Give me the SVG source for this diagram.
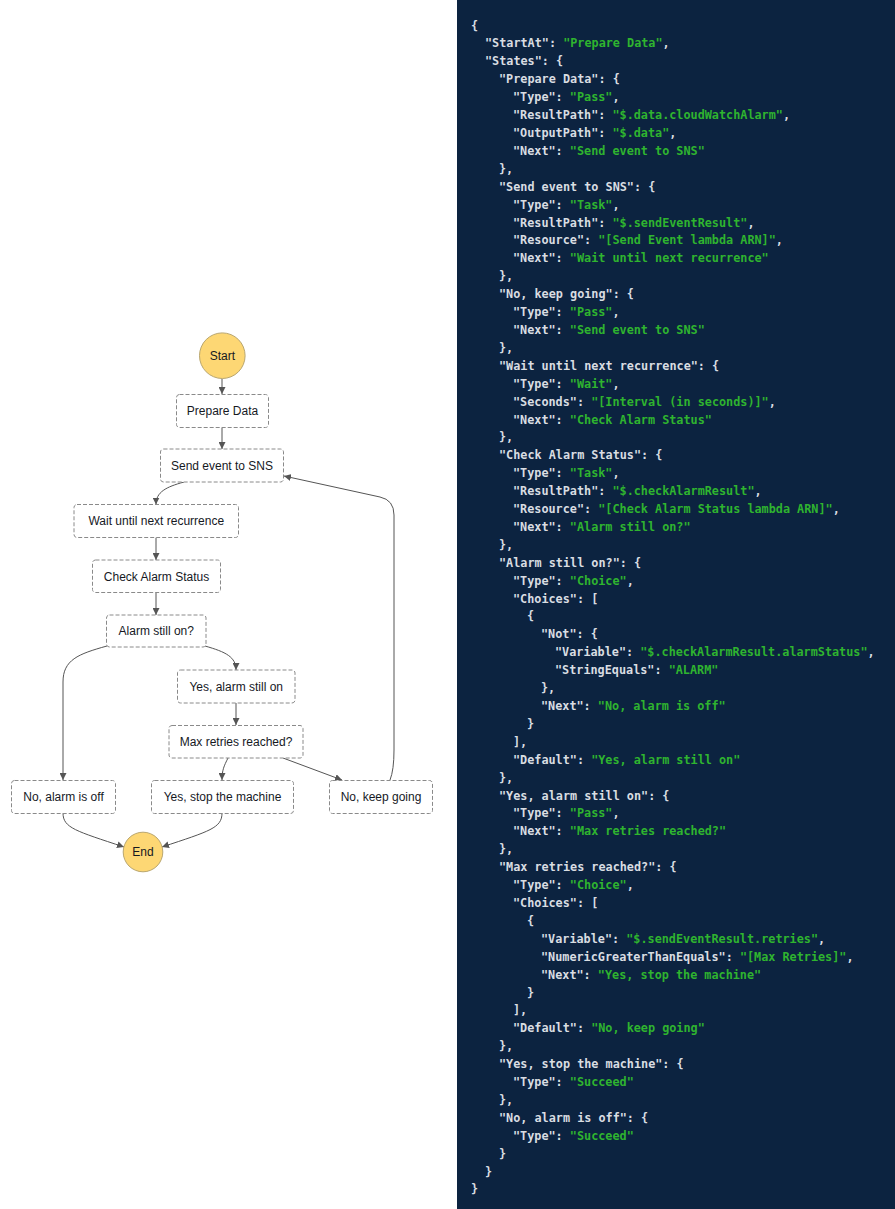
<svg xmlns="http://www.w3.org/2000/svg" width="895" height="1209" viewBox="0 0 895 1209">
<style>
.node rect{fill:#fff;stroke:#8a8a8a;stroke-width:1;stroke-dasharray:4 2}
.node circle{fill:#fdd774;stroke:#b9a66e;stroke-width:1}
.node text{font-family:"Liberation Sans",Arial,sans-serif;font-size:12px;fill:#16191f;text-anchor:middle}
.edge{fill:none;stroke:#555;stroke-width:1;marker-end:url(#ah)}
.code text{font-family:"DejaVu Sans Mono","Liberation Mono",monospace;font-size:11.8px;font-weight:bold;fill:#d9dde2}
.code .v{fill:#2fb42f}
</style>
<defs>
<marker id="ah" viewBox="0 0 8 8" refX="8" refY="4" markerWidth="7" markerHeight="7" orient="auto" markerUnits="userSpaceOnUse">
<path d="M0,0 L8,4 L0,8 z" fill="#555"/>
</marker>
</defs>
<rect x="0" y="0" width="895" height="1209" fill="#fff"/>
<g id="connectors">
<path class="edge" d="M222,379 L222,394"/>
<path class="edge" d="M222,427.5 L222,449"/>
<path class="edge" d="M184,482 C166,487 156,492 156,504.5"/>
<path class="edge" d="M156,537.5 L156,560"/>
<path class="edge" d="M156,592.5 L156,615"/>
<path class="edge" d="M107,646 C78,654 63,660 63,682 L63,780"/>
<path class="edge" d="M205,646 C226,652 236,657 236,670"/>
<path class="edge" d="M236,703 L236,725"/>
<path class="edge" d="M228,758 C224,766 222,770 222,780"/>
<path class="edge" d="M283,758 L342,780"/>
<path class="edge" d="M390,780 Q394,770 394,750 L394,515 Q394,500 380,497 L284,476"/>
<path class="edge" d="M63,813 C63,828 76,831 124,847"/>
<path class="edge" d="M222,813 C222,828 210,831 162,847"/>
</g>
<g id="start" class="node"><circle cx="222.3" cy="355.7" r="22.8"/><text x="222.3" y="360">Start</text></g>
<g id="prepare-data" class="node"><rect x="176.5" y="394.5" width="92" height="33" rx="3"/><text x="222.5" y="415">Prepare Data</text></g>
<g id="send-event" class="node"><rect x="160.5" y="449" width="123" height="33" rx="3"/><text x="222" y="469.5">Send event to SNS</text></g>
<g id="wait" class="node"><rect x="74" y="504.5" width="164.5" height="33" rx="3"/><text x="156.3" y="525">Wait until next recurrence</text></g>
<g id="check-alarm" class="node"><rect x="92.5" y="560" width="128" height="32.5" rx="3"/><text x="156.5" y="580.5">Check Alarm Status</text></g>
<g id="alarm-still-on" class="node"><rect x="106.5" y="615" width="99.5" height="32" rx="3"/><text x="156.3" y="635.3">Alarm still on?</text></g>
<g id="yes-alarm-still-on" class="node"><rect x="177.5" y="670" width="117.5" height="33" rx="3"/><text x="236.2" y="690.5">Yes, alarm still on</text></g>
<g id="max-retries" class="node"><rect x="169" y="725.5" width="134" height="32.5" rx="3"/><text x="236" y="746">Max retries reached?</text></g>
<g id="no-alarm-off" class="node"><rect x="11.5" y="780.5" width="104" height="33" rx="3"/><text x="63.5" y="801">No, alarm is off</text></g>
<g id="yes-stop" class="node"><rect x="151.5" y="780.5" width="142" height="33" rx="3"/><text x="222.5" y="801">Yes, stop the machine</text></g>
<g id="no-keep-going" class="node"><rect x="329.5" y="780.5" width="103" height="33" rx="3"/><text x="381" y="801">No, keep going</text></g>
<g id="end" class="node"><circle cx="143" cy="852" r="19.8"/><text x="143" y="856.3">End</text></g>
<g id="code" class="code">
<rect x="457" y="0" width="438" height="1209" fill="#0c2340"/>
<text x="471" y="29.5">{</text>
<text x="485" y="47.4">"StartAt": <tspan class="v">"Prepare Data"</tspan>,</text>
<text x="485" y="65.3">"States": {</text>
<text x="499" y="83.2">"Prepare Data": {</text>
<text x="513" y="101.1">"Type": <tspan class="v">"Pass"</tspan>,</text>
<text x="513" y="119.0">"ResultPath": <tspan class="v">"$.data.cloudWatchAlarm"</tspan>,</text>
<text x="513" y="136.9">"OutputPath": <tspan class="v">"$.data"</tspan>,</text>
<text x="513" y="154.8">"Next": <tspan class="v">"Send event to SNS"</tspan></text>
<text x="499" y="172.8">},</text>
<text x="499" y="190.7">"Send event to SNS": {</text>
<text x="513" y="208.6">"Type": <tspan class="v">"Task"</tspan>,</text>
<text x="513" y="226.5">"ResultPath": <tspan class="v">"$.sendEventResult"</tspan>,</text>
<text x="513" y="244.4">"Resource": <tspan class="v">"[Send Event lambda ARN]"</tspan>,</text>
<text x="513" y="262.3">"Next": <tspan class="v">"Wait until next recurrence"</tspan></text>
<text x="499" y="280.2">},</text>
<text x="499" y="298.1">"No, keep going": {</text>
<text x="513" y="316.0">"Type": <tspan class="v">"Pass"</tspan>,</text>
<text x="513" y="333.9">"Next": <tspan class="v">"Send event to SNS"</tspan></text>
<text x="499" y="351.8">},</text>
<text x="499" y="369.7">"Wait until next recurrence": {</text>
<text x="513" y="387.6">"Type": <tspan class="v">"Wait"</tspan>,</text>
<text x="513" y="405.5">"Seconds": <tspan class="v">"[Interval (in seconds)]"</tspan>,</text>
<text x="513" y="423.5">"Next": <tspan class="v">"Check Alarm Status"</tspan></text>
<text x="499" y="441.4">},</text>
<text x="499" y="459.3">"Check Alarm Status": {</text>
<text x="513" y="477.2">"Type": <tspan class="v">"Task"</tspan>,</text>
<text x="513" y="495.1">"ResultPath": <tspan class="v">"$.checkAlarmResult"</tspan>,</text>
<text x="513" y="513.0">"Resource": <tspan class="v">"[Check Alarm Status lambda ARN]"</tspan>,</text>
<text x="513" y="530.9">"Next": <tspan class="v">"Alarm still on?"</tspan></text>
<text x="499" y="548.8">},</text>
<text x="499" y="566.7">"Alarm still on?": {</text>
<text x="513" y="584.6">"Type": <tspan class="v">"Choice"</tspan>,</text>
<text x="513" y="602.5">"Choices": [</text>
<text x="527" y="620.4">{</text>
<text x="541" y="638.3">"Not": {</text>
<text x="555" y="656.2">"Variable": <tspan class="v">"$.checkAlarmResult.alarmStatus"</tspan>,</text>
<text x="555" y="674.1">"StringEquals": <tspan class="v">"ALARM"</tspan></text>
<text x="541" y="692.1">},</text>
<text x="541" y="710.0">"Next": <tspan class="v">"No, alarm is off"</tspan></text>
<text x="527" y="727.9">}</text>
<text x="513" y="745.8">],</text>
<text x="513" y="763.7">"Default": <tspan class="v">"Yes, alarm still on"</tspan></text>
<text x="499" y="781.6">},</text>
<text x="499" y="799.5">"Yes, alarm still on": {</text>
<text x="513" y="817.4">"Type": <tspan class="v">"Pass"</tspan>,</text>
<text x="513" y="835.3">"Next": <tspan class="v">"Max retries reached?"</tspan></text>
<text x="499" y="853.2">},</text>
<text x="499" y="871.1">"Max retries reached?": {</text>
<text x="513" y="889.0">"Type": <tspan class="v">"Choice"</tspan>,</text>
<text x="513" y="906.9">"Choices": [</text>
<text x="527" y="924.8">{</text>
<text x="541" y="942.7">"Variable": <tspan class="v">"$.sendEventResult.retries"</tspan>,</text>
<text x="541" y="960.7">"NumericGreaterThanEquals": <tspan class="v">"[Max Retries]"</tspan>,</text>
<text x="541" y="978.6">"Next": <tspan class="v">"Yes, stop the machine"</tspan></text>
<text x="527" y="996.5">}</text>
<text x="513" y="1014.4">],</text>
<text x="513" y="1032.3">"Default": <tspan class="v">"No, keep going"</tspan></text>
<text x="499" y="1050.2">},</text>
<text x="499" y="1068.1">"Yes, stop the machine": {</text>
<text x="513" y="1086.0">"Type": <tspan class="v">"Succeed"</tspan></text>
<text x="499" y="1103.9">},</text>
<text x="499" y="1121.8">"No, alarm is off": {</text>
<text x="513" y="1139.7">"Type": <tspan class="v">"Succeed"</tspan></text>
<text x="499" y="1157.6">}</text>
<text x="485" y="1175.5">}</text>
<text x="471" y="1193.4">}</text>
</g>
</svg>
